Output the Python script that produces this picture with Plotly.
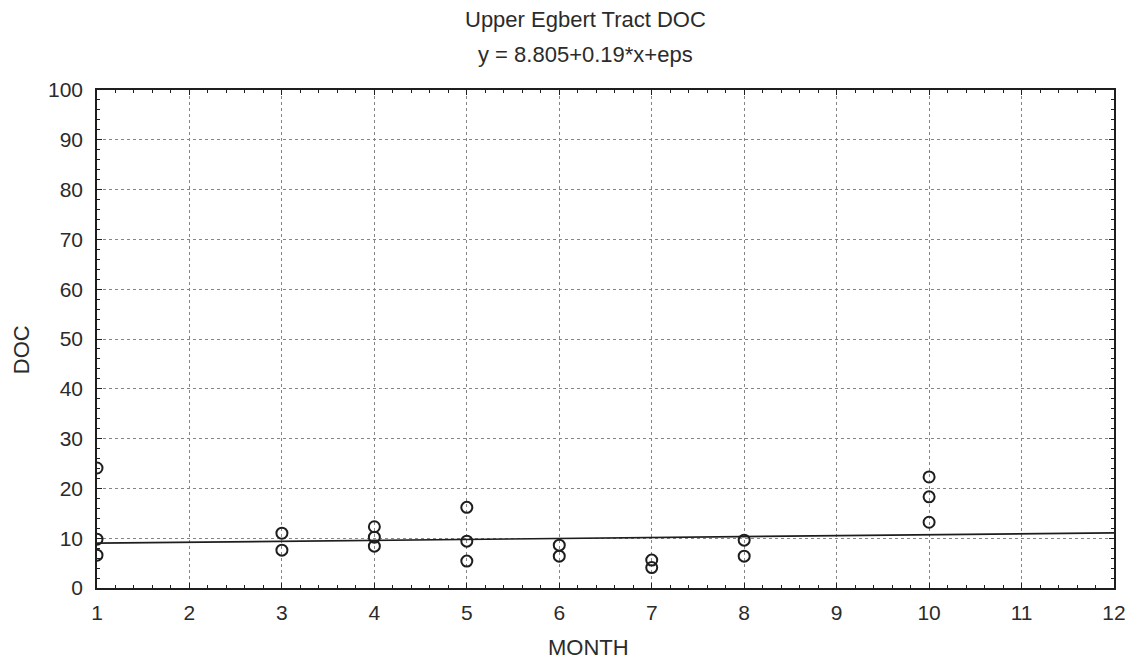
import plotly.graph_objects as go

# Data
months = [1, 1, 1, 3, 3, 4, 4, 4, 5, 5, 5, 6, 6, 7, 7, 8, 8, 10, 10, 10]
doc = [24.1, 9.8, 6.6, 11.0, 7.6, 12.3, 10.2, 8.4, 16.2, 9.4, 5.4, 8.6, 6.4,
       5.6, 4.1, 9.6, 6.4, 22.3, 18.3, 13.2]

# Fitted line endpoints (y = 8.805 + 0.19*x)
fit_x = [1, 12]
fit_y = [8.995, 11.085]

x_ticks = list(range(1, 13))
y_ticks = list(range(0, 101, 10))

title_line1 = "Upper Egbert Tract DOC"
title_line2 = "y = 8.805+0.19*x+eps"
x_title = "MONTH"
y_title = "DOC"

FONT = "Liberation Sans, Arial, sans-serif"
TXT = "#2b2b2b"
AX = "#1e1e1e"
GRID = "#858585"

fig = go.Figure()
fig.add_trace(go.Scatter(
    x=fit_x, y=fit_y, mode="lines",
    line=dict(color=AX, width=1.7), showlegend=False, hoverinfo="skip"))
fig.add_trace(go.Scatter(
    x=months, y=doc, mode="markers",
    marker=dict(symbol="circle-open", size=11, color=AX, line=dict(width=2, color=AX)),
    showlegend=False, cliponaxis=True))

axis_common = dict(
    showgrid=True, gridcolor=GRID, griddash="dot", gridwidth=1,
    showline=True, linecolor=AX, linewidth=1.6, mirror="ticks",
    ticks="inside", ticklen=5, tickcolor=AX, tickwidth=1,
    zeroline=False,
    tickfont=dict(family=FONT, size=21, color=TXT),
)

fig.update_xaxes(range=[1, 12], tickvals=x_ticks, ticktext=[str(v) for v in x_ticks],
                 minor=dict(dtick=0.2, ticks="inside", ticklen=3, tickcolor=AX, showgrid=False),
                 ticklabelstandoff=5, **axis_common)
fig.update_yaxes(range=[0, 100], tickvals=y_ticks, ticktext=[str(v) for v in y_ticks],
                 minor=dict(dtick=2, ticks="inside", ticklen=3, tickcolor=AX, showgrid=False),
                 ticklabelstandoff=8, **axis_common)

ann_font = dict(family=FONT, size=22, color=TXT)
fig.update_layout(
    width=1138, height=664,
    margin=dict(l=97, r=21, t=90, b=76),
    paper_bgcolor="white", plot_bgcolor="white",
    annotations=[
        dict(text=title_line1, xref="paper", yref="paper", x=0.4804, y=1.1406,
             xanchor="center", yanchor="middle", showarrow=False, font=ann_font),
        dict(text=title_line2, xref="paper", yref="paper", x=0.4804, y=1.0703,
             xanchor="center", yanchor="middle", showarrow=False, font=ann_font),
        dict(text=y_title, xref="paper", yref="paper", x=-0.0735, y=0.478,
             xanchor="center", yanchor="middle", textangle=-90, showarrow=False, font=ann_font),
        dict(text=x_title, xref="paper", yref="paper", x=0.4833, y=-0.1185,
             xanchor="center", yanchor="middle", showarrow=False, font=ann_font),
    ],
)

fig.write_html("out.html", config={"displayModeBar": False},
               post_script="document.body.style.margin='0';")
